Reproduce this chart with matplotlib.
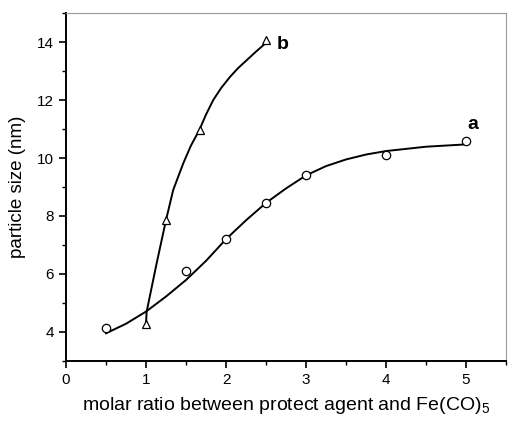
import matplotlib
matplotlib.use("Agg")
import matplotlib.pyplot as plt
from matplotlib.ticker import MultipleLocator

plt.rcParams['font.family'] = ['Liberation Sans', 'DejaVu Sans']
plt.rcParams['mathtext.fontset'] = 'custom'
plt.rcParams['mathtext.rm'] = 'Liberation Sans'

# measured points
ratio_a = [0.5, 1.5, 2.0, 2.5, 3.0, 4.0, 5.0]
size_a = [4.15, 6.11, 7.22, 8.46, 9.40, 10.11, 10.59]
ratio_b = [1.0, 1.25, 1.67, 2.5]
size_b = [4.27, 7.86, 10.98, 14.09]

# fitted curves
fit_a_x = [0.5, 0.75, 1.0, 1.25, 1.5, 1.75, 2.0, 2.25, 2.5, 2.75, 3.0, 3.25, 3.5, 3.75, 4.0, 4.5, 5.0]
fit_a_y = [3.95, 4.28, 4.70, 5.22, 5.79, 6.45, 7.20, 7.85, 8.45, 8.95, 9.40, 9.72, 9.95, 10.12, 10.24, 10.39, 10.47]
fit_b_x = [1.0, 1.008, 1.133, 1.25, 1.34, 1.466, 1.56, 1.667, 1.75, 1.84, 1.94, 2.05, 2.15, 2.26, 2.37, 2.49]
fit_b_y = [4.30, 4.70, 6.37, 7.86, 8.90, 9.82, 10.42, 10.97, 11.50, 12.00, 12.42, 12.80, 13.10, 13.38, 13.66, 13.95]

fig = plt.figure(figsize=(5.08, 4.24), dpi=100)
ax = fig.add_axes([0.130, 0.149, 0.866, 0.820])

ax.plot(fit_a_x, fit_a_y, color='black', lw=1.4)
ax.plot(fit_b_x, fit_b_y, color='black', lw=1.4)
ax.plot(ratio_a, size_a, 'o', mfc='white', mec='black', ms=6, mew=0.9)
ax.plot(ratio_b, size_b, '^', mfc='white', mec='black', ms=6, mew=0.9)

ax.text(5.09, 11.14, 'a', fontsize=14, fontweight='bold', ha='center', va='center')
ax.text(2.71, 13.93, 'b', fontsize=14, fontweight='bold', ha='center', va='center')

ax.set_xlim(0, 5.5)
ax.set_ylim(3, 15)
ax.xaxis.set_major_locator(MultipleLocator(1))
ax.xaxis.set_minor_locator(MultipleLocator(0.5))
ax.yaxis.set_minor_locator(MultipleLocator(1))
ax.set_yticks([4, 6, 8, 10, 12, 14])

ax.tick_params(which='major', direction='out', length=5, width=1.2, labelsize=11, top=False, right=False)
ax.tick_params(which='minor', direction='out', length=3, width=1.0, top=False, right=False)
for s in ['left', 'bottom']:
    ax.spines[s].set_linewidth(1.4)
for s in ['top', 'right']:
    ax.spines[s].set_color('#9a9a9a')
    ax.spines[s].set_linewidth(0.8)

ax.set_xlabel('molar ratio between protect agent and Fe(CO)$_5$', fontsize=14, labelpad=6)
ax.set_ylabel('particle size (nm)', fontsize=13.5, labelpad=8)

fig.savefig('out.png', dpi=100)
